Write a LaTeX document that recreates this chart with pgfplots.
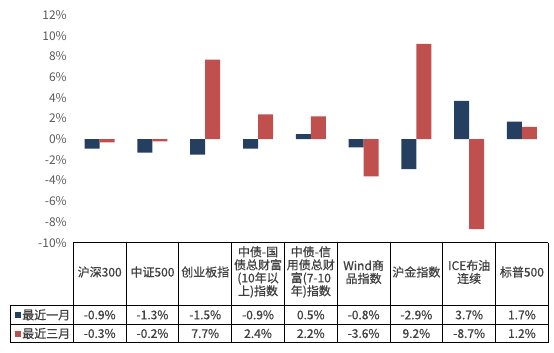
\documentclass[border=0pt]{standalone}
\usepackage{pgfplots}
\pgfplotsset{compat=1.18}
\usepackage{fontspec}
\setmainfont{Noto Sans CJK SC}
\newfontfamily\tblfont{Noto Sans CJK SC}[FakeBold=0.6]
\definecolor{cblue}{HTML}{243F60}
\definecolor{cred}{HTML}{C0504D}
\definecolor{tickgray}{HTML}{595959}
\definecolor{txt}{HTML}{404040}
\begin{document}
\begin{tikzpicture}[x=1pt,y=1pt]
\useasboundingbox (0,0) rectangle (554,353);
\begin{axis}[
  at={(73.3pt,110.3pt)}, anchor=south west,
  scale only axis, width=475pt, height=227.7pt,
  xmin=-0.5, xmax=8.5, ymin=-10, ymax=12,
  ytick={-10,-8,...,12}, xtick=\empty,
  yticklabel={\pgfmathprintnumber{\tick}\%},
  /pgf/number format/assume math mode=true,
  yticklabel style={font=\fontsize{12}{14}\selectfont, text=tickgray, anchor=east, xshift=-3pt},
  axis line style={draw=none}, tick style={draw=none},
  ybar=0pt, bar width=15pt, clip=false,
]
\addplot[fill=cblue, draw=none] coordinates {(0,-0.9) (1,-1.3) (2,-1.5) (3,-0.9) (4,0.5) (5,-0.8) (6,-2.9) (7,3.7) (8,1.7)};
\addplot[fill=cred, draw=none] coordinates {(0,-0.3) (1,-0.2) (2,7.7) (3,2.4) (4,2.2) (5,-3.6) (6,9.2) (7,-8.7) (8,1.2)};
\end{axis}
% data table
\begin{scope}[line width=0.9pt, draw=black]
\draw (73.3,110.3) -- (548.3,110.3);
\draw (10.7,47.5) -- (548.3,47.5);
\draw (10.7,28.7) -- (548.3,28.7);
\draw (10.7,10.3) -- (548.3,10.3);
\draw (10.7,10.3) -- (10.7,47.5);
\foreach \k in {0,...,9} { \draw ({73.3+52.78*\k},10.3) -- ({73.3+52.78*\k},110.3); }
\end{scope}
\tikzset{hdr/.style={align=center, text=txt, font=\tblfont\fontsize{12}{13}\selectfont, inner sep=0pt},
         val/.style={text=txt, font=\tblfont\fontsize{12}{14}\selectfont, inner sep=0pt}}
\foreach \t [count=\i from 0] in {沪深300,中证500,创业板指,{中债-国\\债总财富\\(10年以\\上)指数},{中债-信\\用债总财\\富(7-10\\年)指数},{Wind商\\品指数},沪金指数,{ICE布油\\连续},标普500} {
  \node[hdr] at ({73.3+52.78*(\i+0.5)},81) {\t};
}
\foreach \t [count=\i from 0] in {-0.9\%,-1.3\%,-1.5\%,-0.9\%,0.5\%,-0.8\%,-2.9\%,3.7\%,1.7\%} {
  \node[val] at ({73.3+52.78*(\i+0.5)},38.1) {\t};
}
\foreach \t [count=\i from 0] in {-0.3\%,-0.2\%,7.7\%,2.4\%,2.2\%,-3.6\%,9.2\%,-8.7\%,1.2\%} {
  \node[val] at ({73.3+52.78*(\i+0.5)},19.5) {\t};
}
\fill[cblue] (15,35) rectangle (21,41);
\fill[cred] (15,16.4) rectangle (21,22.4);
\node[val, anchor=west] at (22,38.1) {最近一月};
\node[val, anchor=west] at (22,19.5) {最近三月};
\end{tikzpicture}
\end{document}
